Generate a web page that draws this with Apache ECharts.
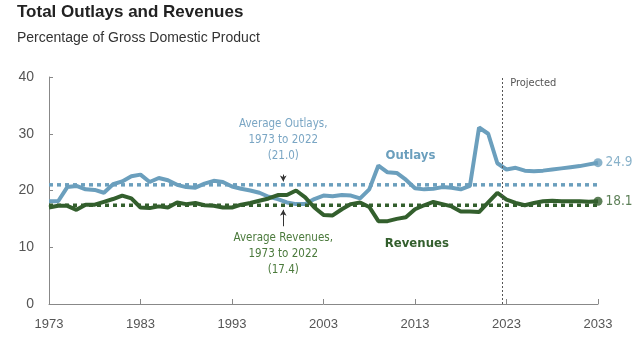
<!DOCTYPE html>
<html>
<head>
<meta charset="utf-8">
<style>html,body{margin:0;padding:0;background:#fff}#c{width:640px;height:360px}</style>
<script src="https://cdn.jsdelivr.net/npm/echarts@6/dist/echarts.min.js"></script>
</head>
<body>
<div id="c"></div>
<script>
const years = [1973,1974,1975,1976,1977,1978,1979,1980,1981,1982,1983,1984,1985,1986,1987,1988,1989,1990,1991,1992,1993,1994,1995,1996,1997,1998,1999,2000,2001,2002,2003,2004,2005,2006,2007,2008,2009,2010,2011,2012,2013,2014,2015,2016,2017,2018,2019,2020,2021,2022,2023,2024,2025,2026,2027,2028,2029,2030,2031,2032,2033];
const outlays = [18.1,18.1,20.6,20.8,20.2,20.1,19.6,21.1,21.6,22.5,22.8,21.5,22.2,21.8,21.0,20.6,20.5,21.2,21.7,21.5,20.7,20.3,20.0,19.6,18.9,18.5,17.9,17.6,17.6,18.5,19.1,19.0,19.2,19.1,18.6,20.2,24.4,23.2,23.1,21.9,20.4,20.2,20.3,20.6,20.5,20.2,20.8,31.1,30.0,24.8,23.7,24.0,23.5,23.4,23.5,23.7,23.9,24.1,24.3,24.6,24.9];
const revenues = [17.0,17.3,17.3,16.6,17.5,17.5,18.0,18.5,19.1,18.6,17.0,16.9,17.2,17.0,17.9,17.6,17.8,17.4,17.3,17.0,17.0,17.5,17.8,18.2,18.6,19.2,19.2,20.0,18.8,17.0,15.7,15.6,16.7,17.6,17.9,17.1,14.6,14.6,15.0,15.3,16.7,17.4,18.0,17.6,17.2,16.3,16.3,16.2,17.9,19.6,18.4,17.8,17.4,17.8,18.1,18.2,18.1,18.1,18.1,18.0,18.1];
const avgOutlays = 21.0;
const avgRevenues = 17.4;
const avgPeriod = [1973, 2022];
const projectedStart = 2022.5;
const xTicks = [1973,1983,1993,2003,2013,2023,2033];
const yTicks = [0,10,20,30,40];

const BLUE = '#6b9fbd';
const GREEN = '#335f2d';
const NARROW = "'Liberation Sans Narrow','DejaVu Sans Condensed','Arial Narrow',sans-serif";
const SANS = "'Liberation Sans',Arial,sans-serif";

const pairs = (ys) => years.map((y, i) => [y, ys[i]]);
const last = years.length - 1;
const xMin = years[0], xMax = years[last];

const chart = echarts.init(document.getElementById('c'), null, {renderer: 'canvas'});
chart.setOption({
  animation: false,
  backgroundColor: '#fff',
  title: [
    {text: 'Total Outlays and Revenues', left: 12, top: -1,
     textStyle: {fontFamily: SANS, fontWeight: 'bold', fontSize: 17, color: '#222'}},
    {text: 'Percentage of Gross Domestic Product', left: 12, top: 26,
     textStyle: {fontFamily: SANS, fontWeight: 'normal', fontSize: 14, color: '#333'}}
  ],
  grid: {left: 49, right: 42, top: 77, bottom: 56},
  xAxis: {
    type: 'value', min: xMin, max: xMax,
    splitLine: {show: false},
    axisLine: {lineStyle: {color: '#888', width: 1}},
    axisTick: {show: true, inside: true, length: 5, lineStyle: {color: '#888'}, customValues: xTicks},
    axisLabel: {customValues: xTicks, color: '#555', fontFamily: SANS, fontSize: 13, margin: 14,
                formatter: v => String(v)}
  },
  yAxis: {
    type: 'value', min: yTicks[0], max: yTicks[yTicks.length - 1], interval: 10,
    splitLine: {show: false},
    axisLine: {show: true, lineStyle: {color: '#888', width: 1}},
    axisTick: {show: true, inside: true, length: 4, lineStyle: {color: '#888'}},
    axisLabel: {color: '#555', fontFamily: SANS, fontSize: 14, margin: 15}
  },
  series: [
    {
      name: 'Outlays', type: 'line', data: pairs(outlays), symbol: 'none',
      lineStyle: {color: BLUE, width: 4}, z: 3,
      markLine: {
        silent: true, symbol: ['none', 'none'],
        lineStyle: {color: '#555', type: [2, 2], width: 1},
        label: {show: false},
        data: [{xAxis: projectedStart}]
      },
      markPoint: {
        silent: true, symbol: 'circle', symbolSize: 0,
        data: [
          {coord: [2012.5, 26.1], label: {show: true, formatter: 'Outlays', color: BLUE, fontWeight: 'bold',
            fontFamily: NARROW, fontSize: 13, position: 'inside'}},
          {coord: [1998.6, 28.9], label: {show: true,
            formatter: 'Average Outlays,\n' + avgPeriod[0] + ' to ' + avgPeriod[1] + '\n(' + avgOutlays.toFixed(1) + ')',
            color: '#7aa6c4', fontFamily: NARROW, fontSize: 11.5, lineHeight: 16, align: 'center', position: 'inside'}},
          {coord: [2023.4, 38.9], label: {show: true, formatter: 'Projected', color: '#555',
            fontFamily: NARROW, fontSize: 11, position: 'right', distance: 0}}
        ]
      }
    },
    {
      name: 'Revenues', type: 'line', data: pairs(revenues), symbol: 'none',
      lineStyle: {color: GREEN, width: 4}, z: 3,
      markPoint: {
        silent: true, symbol: 'circle', symbolSize: 0,
        data: [
          {coord: [2013.2, 10.7], label: {show: true, formatter: 'Revenues', color: GREEN, fontWeight: 'bold',
            fontFamily: NARROW, fontSize: 13, position: 'inside'}},
          {coord: [1998.6, 8.8], label: {show: true,
            formatter: 'Average Revenues,\n' + avgPeriod[0] + ' to ' + avgPeriod[1] + '\n(' + avgRevenues.toFixed(1) + ')',
            color: '#4b7a3c', fontFamily: NARROW, fontSize: 11.5, lineHeight: 16, align: 'center', position: 'inside'}}
        ]
      }
    },
    {
      name: 'Avg Outlays', type: 'line', data: [[xMin, avgOutlays], [xMax, avgOutlays]], symbol: 'none',
      lineStyle: {color: BLUE, width: 3.5, type: [4, 4]}, z: 4,
      markLine: {
        silent: true, symbol: ['none', 'arrow'], symbolSize: [5, 6],
        lineStyle: {color: '#333', type: 'solid', width: 1}, label: {show: false},
        data: [[{coord: [1998.6, 22.8]}, {coord: [1998.6, 21.6]}]]
      }
    },
    {
      name: 'Avg Revenues', type: 'line', data: [[xMin, avgRevenues], [xMax, avgRevenues]], symbol: 'none',
      lineStyle: {color: GREEN, width: 3.5, type: [4, 4]}, z: 4,
      markLine: {
        silent: true, symbol: ['none', 'arrow'], symbolSize: [5, 6],
        lineStyle: {color: '#333', type: 'solid', width: 1}, label: {show: false},
        data: [[{coord: [1998.6, 13.7]}, {coord: [1998.6, 16.6]}]]
      }
    },
    {
      name: 'Outlays end', type: 'scatter', data: [[years[last], outlays[last]]], symbol: 'circle', symbolSize: 9,
      itemStyle: {color: BLUE}, z: 5,
      label: {show: true, position: 'right', distance: 3, color: BLUE, fontFamily: NARROW, fontSize: 13.5,
        formatter: p => p.value[1].toFixed(1)}
    },
    {
      name: 'Revenues end', type: 'scatter', data: [[years[last], revenues[last]]], symbol: 'circle', symbolSize: 9,
      itemStyle: {color: GREEN}, z: 5,
      label: {show: true, position: 'right', distance: 3, color: GREEN, fontFamily: NARROW, fontSize: 13.5,
        formatter: p => p.value[1].toFixed(1)}
    }
  ]
});
</script>
</body>
</html>
